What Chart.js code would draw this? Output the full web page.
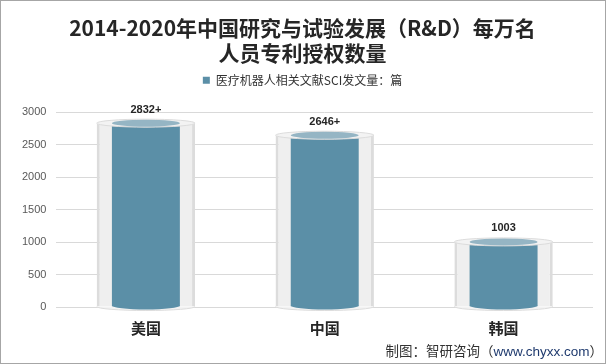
<!DOCTYPE html>
<html>
<head>
<meta charset="utf-8">
<script src="https://cdn.jsdelivr.net/npm/chart.js@4"></script>
<style>
  html, body { margin: 0; padding: 0; background: #fff; }
  .wrap { position: relative; width: 604px; height: 362px; border: 1px solid #a6a6a6; }
  canvas { display: block; }
  .src { position: absolute; right: 2px; bottom: 3px; font: 13.5px "Noto Sans CJK SC", sans-serif; color: #333; }
  .src span { color: #1f3a6e; font-family: "Liberation Sans", sans-serif; }
</style>
</head>
<body>
<div class="wrap">
  <canvas id="rdChart" width="604" height="362"></canvas>
  <div class="src">制图：智研咨询（<span>www.chyxx.com</span>）</div>
</div>
<script>
const countries = ['美国', '中国', '韩国'];
const sciCounts = [2832, 2646, 1003];
const valueLabels = ['2832+', '2646+', '1003'];
const yTicks = [0, 500, 1000, 1500, 2000, 2500, 3000];

const barColor = '#5b8fa7';
const glassColor = '#efefef';

// extra room under the legend
const legendGap = {
  id: 'legendGap',
  beforeInit(chart) {
    const fit = chart.legend.fit;
    chart.legend.fit = function () {
      fit.bind(chart.legend)();
      this.height += 16;
    };
  }
};

// cylinder tops + value labels
const cylinderPlugin = {
  id: 'cylinder',
  afterDatasetsDraw(chart) {
    const c = chart.ctx;
    const glass = chart.getDatasetMeta(1).data;
    const bars = chart.getDatasetMeta(0).data;

    glass.forEach(g => {
      const w = g.width / 2;
      c.save();
      c.fillStyle = '#f3f3f3';
      c.strokeStyle = '#dcdcdc';
      c.beginPath();
      c.ellipse(g.x, g.y, w, 4, 0, 0, Math.PI * 2);
      c.fill();
      c.stroke();
      c.beginPath();
      c.ellipse(g.x, g.base, w, 4, 0, 0, Math.PI);
      c.fill();
      c.stroke();
      c.restore();
    });

    bars.forEach((b, i) => {
      const w = b.width / 2;
      c.save();
      c.fillStyle = barColor;
      c.beginPath();
      c.ellipse(b.x, b.base - 1, w, 4, 0, 0, Math.PI);
      c.fill();
      c.fillStyle = '#95b5c4';
      c.beginPath();
      c.ellipse(b.x, b.y, w, 3.5, 0, 0, Math.PI * 2);
      c.fill();
      c.fillStyle = '#262626';
      c.font = 'bold 11px "Liberation Sans", sans-serif';
      c.textAlign = 'center';
      c.textBaseline = 'bottom';
      c.fillText(valueLabels[i], b.x, b.y - 8);
      c.restore();
    });
  }
};

new Chart(document.getElementById('rdChart'), {
  type: 'bar',
  data: {
    labels: countries,
    datasets: [
      {
        label: '医疗机器人相关文献SCI发文量：篇',
        data: sciCounts,
        backgroundColor: barColor,
        barPercentage: 0.38,
        categoryPercentage: 1,
        grouped: false,
        order: 0
      },
      {
        label: 'glass',
        data: sciCounts,
        backgroundColor: glassColor,
        borderColor: '#dcdcdc',
        borderWidth: { left: 3, right: 3, top: 0, bottom: 0 },
        borderSkipped: false,
        barPercentage: 0.55,
        categoryPercentage: 1,
        grouped: false,
        order: 1
      }
    ]
  },
  options: {
    responsive: false,
    animation: false,
    layout: { padding: { left: 11, right: 12, top: 6, bottom: 22 } },
    plugins: {
      title: {
        display: true,
        text: ['2014-2020年中国研究与试验发展（R&D）每万名', '人员专利授权数量'],
        color: '#262626',
        font: { size: 21, weight: 'bold', family: '"Noto Sans CJK SC", sans-serif', lineHeight: 1.22 },
        padding: { top: 8, bottom: 0 }
      },
      legend: {
        display: true,
        labels: {
          filter: item => item.datasetIndex === 0,
          boxWidth: 7,
          boxHeight: 7,
          color: '#333',
          font: { size: 12, family: '"Noto Sans CJK SC", sans-serif' },
          padding: 8
        }
      },
      tooltip: { enabled: false }
    },
    scales: {
      x: {
        grid: { display: false },
        border: { display: false },
        ticks: {
          color: '#262626',
          padding: 4,
          font: { size: 15, weight: 'bold', family: '"Noto Sans CJK SC", sans-serif' }
        }
      },
      y: {
        min: 0,
        max: 3000,
        afterBuildTicks: axis => { axis.ticks = yTicks.map(v => ({ value: v })); },
        grid: { color: '#d9d9d9', drawTicks: false },
        border: { display: false },
        ticks: {
          color: '#595959',
          padding: 10,
          callback: v => String(v),
          font: { size: 11, family: '"Liberation Sans", sans-serif' }
        }
      }
    }
  },
  plugins: [legendGap, cylinderPlugin]
});
</script>
</body>
</html>
